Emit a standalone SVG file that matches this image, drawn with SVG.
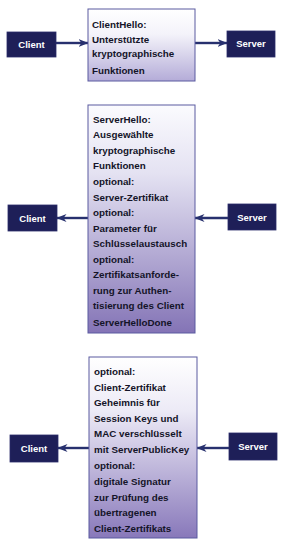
<svg xmlns="http://www.w3.org/2000/svg" width="285" height="551" viewBox="0 0 285 551">
<style>
.ep{fill:#1e1f58;stroke:#2a2c6a;stroke-width:0.8}
.el{font-family:"Liberation Sans",Arial,sans-serif;font-weight:bold;font-size:9.5px;fill:#ffffff;text-anchor:middle}
.msg{stroke:#5a5aa0;stroke-width:1}
.mt{font-family:"Liberation Sans",Arial,sans-serif;font-weight:bold;font-size:9.8px;fill:#141428}
.con{stroke:#27306e;stroke-width:2.4;fill:none;marker-end:url(#ah)}
</style>
<defs>
<linearGradient id="g1" x1="0" y1="0" x2="0" y2="1">
<stop offset="0" stop-color="#ffffff"/><stop offset="0.35" stop-color="#f4f3fa"/><stop offset="1" stop-color="#b4acd8"/>
</linearGradient>
<linearGradient id="g2" x1="0" y1="0" x2="0" y2="1">
<stop offset="0" stop-color="#fbfbfe"/><stop offset="0.3" stop-color="#e4e2f2"/><stop offset="1" stop-color="#8474b6"/>
</linearGradient>
<linearGradient id="g3" x1="0" y1="0" x2="0" y2="1">
<stop offset="0" stop-color="#ffffff"/><stop offset="0.3" stop-color="#eceaf6"/><stop offset="1" stop-color="#8878ba"/>
</linearGradient>
<marker id="ah" viewBox="0 0 10 8" refX="9.5" refY="4" markerWidth="10" markerHeight="8" markerUnits="userSpaceOnUse" orient="auto">
<path d="M0,0 L10,4 L0,8 L3,4 z" fill="#27306e"/>
</marker>
</defs>

<g id="connectors">
<line class="con" x1="56" y1="43" x2="88" y2="43"/>
<line class="con" x1="195" y1="43" x2="227" y2="43"/>
<line class="con" x1="88" y1="218" x2="57" y2="218"/>
<line class="con" x1="228" y1="218" x2="195" y2="218"/>
<line class="con" x1="89" y1="448" x2="58" y2="448"/>
<line class="con" x1="229" y1="448" x2="197" y2="448"/>
</g>

<g id="client1"><rect class="ep" x="7" y="32" width="49" height="25"/><text class="el" x="31.5" y="47.5">Client</text></g>
<g id="server1"><rect class="ep" x="227" y="31" width="48" height="26"/><text class="el" x="251" y="47">Server</text></g>
<g id="client2"><rect class="ep" x="8" y="205" width="49" height="26"/><text class="el" x="32.5" y="221.5">Client</text></g>
<g id="server2"><rect class="ep" x="228" y="204" width="48" height="26"/><text class="el" x="252" y="220.5">Server</text></g>
<g id="client3"><rect class="ep" x="10" y="435" width="48" height="27"/><text class="el" x="34" y="451.5">Client</text></g>
<g id="server3"><rect class="ep" x="229" y="433" width="48" height="27"/><text class="el" x="253" y="450">Server</text></g>

<g id="clienthello">
<rect class="msg" x="88" y="9" width="107" height="72" fill="url(#g1)"/>
<text class="mt" x="92" y="27.5">ClientHello:</text>
<text class="mt" x="92" y="42.5">Unterstützte</text>
<text class="mt" x="92" y="57">kryptographische</text>
<text class="mt" x="92" y="74">Funktionen</text>
</g>

<g id="serverhello">
<rect class="msg" x="88" y="105" width="107" height="228" fill="url(#g2)"/>
<text class="mt" x="93" y="122.5">ServerHello:</text>
<text class="mt" x="93" y="138">Ausgewählte</text>
<text class="mt" x="93" y="153.5">kryptographische</text>
<text class="mt" x="93" y="169">Funktionen</text>
<text class="mt" x="93" y="185">optional:</text>
<text class="mt" x="93" y="200.5">Server-Zertifikat</text>
<text class="mt" x="93" y="216">optional:</text>
<text class="mt" x="93" y="231.5">Parameter für</text>
<text class="mt" x="93" y="247">Schlüsselaustausch</text>
<text class="mt" x="93" y="262.5">optional:</text>
<text class="mt" x="93" y="278">Zertifikatsanforde-</text>
<text class="mt" x="93" y="293.5">rung zur Authen-</text>
<text class="mt" x="93" y="309">tisierung des Client</text>
<text class="mt" x="93" y="326">ServerHelloDone</text>
</g>

<g id="clientkeyexchange">
<rect class="msg" x="89" y="357" width="108" height="181" fill="url(#g3)"/>
<text class="mt" x="94" y="374.5">optional:</text>
<text class="mt" x="94" y="390.5">Client-Zertifikat</text>
<text class="mt" x="94" y="406">Geheimnis für</text>
<text class="mt" x="94" y="421.5">Session Keys und</text>
<text class="mt" x="94" y="437">MAC verschlüsselt</text>
<text class="mt" x="94" y="453">mit ServerPublicKey</text>
<text class="mt" x="94" y="468.5">optional:</text>
<text class="mt" x="94" y="485">digitale Signatur</text>
<text class="mt" x="94" y="500.5">zur Prüfung des</text>
<text class="mt" x="94" y="516">übertragenen</text>
<text class="mt" x="94" y="531.5">Client-Zertifikats</text>
</g>
</svg>
